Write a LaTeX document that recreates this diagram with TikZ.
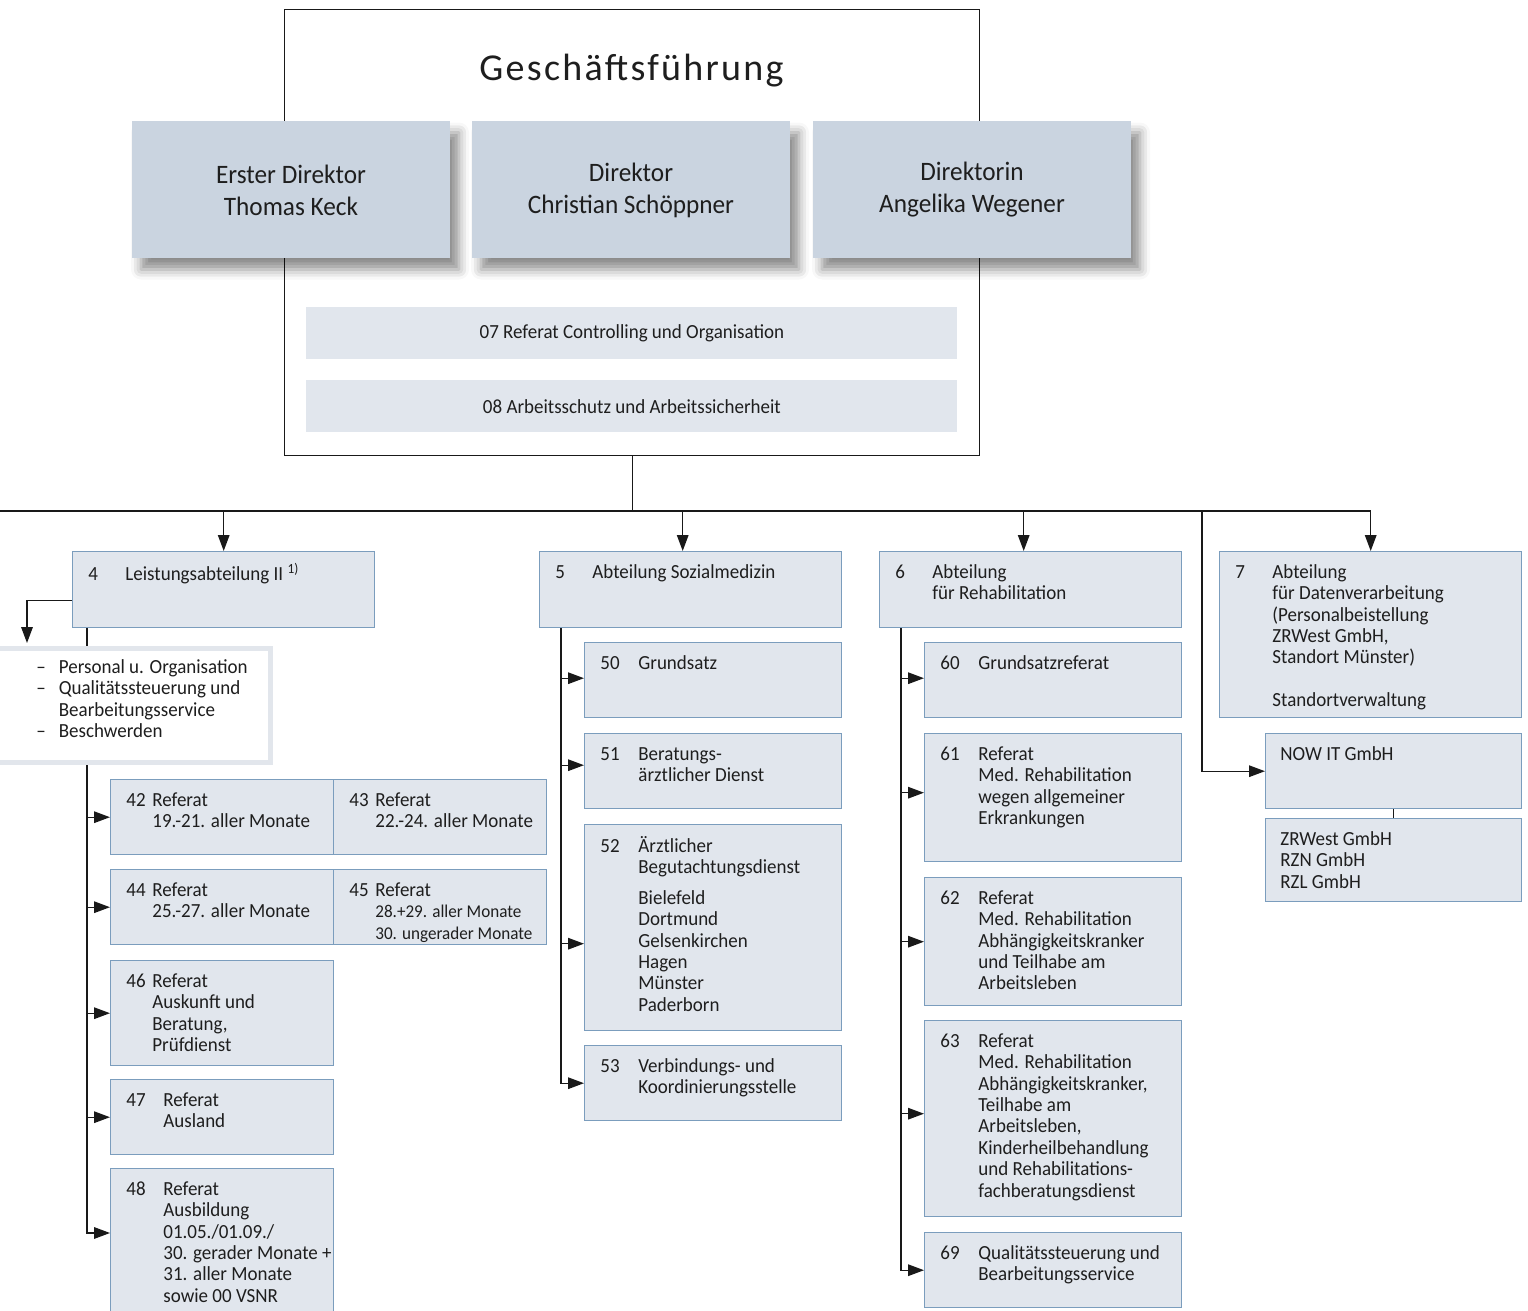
\documentclass[tikz,border=0pt]{standalone}
\usepackage{fontspec}
\setmainfont{Carlito}[FakeStretch=0.95]
\newfontfamily\titlefont{Carlito}[LetterSpace=6]
\usetikzlibrary{arrows.meta,positioning,shadows.blur}

\definecolor{dirfill}{HTML}{CAD4E0}
\definecolor{barfill}{HTML}{E1E6ED}
\definecolor{unitfill}{HTML}{E1E6ED}
\definecolor{unitline}{HTML}{7B9DBD}
\definecolor{listline}{HTML}{E2E6EC}
\definecolor{inktext}{HTML}{1E1E1E}
\newcommand{\bodyfont}{\fontsize{10}{10.7}\selectfont}
\newcommand{\numtext}[3]{\makebox[#1][l]{#2}\begin{tabular}[t]{@{}l@{}}#3\end{tabular}}

\begin{document}
\begin{tikzpicture}[x=0.5pt, y=-0.5pt, text=inktext,
  line/.style={draw=black!90, line width=0.65pt},
  conn/.style={line, -{Triangle[length=8pt,width=5.8pt]}},
  dirbox/.style={fill=dirfill, minimum width=159pt, minimum height=68.5pt, inner sep=0pt,
    align=center, font=\fontsize{13.3}{16}\selectfont,
    blur shadow={shadow xshift=4.5pt, shadow yshift=-5.5pt, shadow blur radius=5pt, shadow opacity=45}},
  bar/.style={fill=barfill, anchor=north west, minimum width=325.5pt, minimum height=26pt,
    inner sep=0pt, font=\bodyfont},
  unit/.style={draw=unitline, fill=unitfill, line width=0.7pt, anchor=north west, inner sep=0pt},
  utext/.style={anchor=north west, inner sep=0pt, font=\bodyfont},
  listbox/.style={draw=listline, fill=white, line width=2.5pt, anchor=north west, inner sep=0pt}]
\useasboundingbox (0,0) rectangle (1528,1311);

% Geschaeftsfuehrung
\node[line, anchor=north west, minimum width=347.5pt, minimum height=223pt, inner sep=0pt] (gf) at (284,9) {};
\node (title) at (631.5,71) {\titlefont\fontsize{19}{22}\selectfont Geschäftsführung};
\node[dirbox] (d1) at (291,190) {Erster Direktor\\Thomas Keck};
\node[dirbox] (d2) at (631,190) {Direktor\\Christian Schöppner};
\node[dirbox] (d3) at (972,190) {Direktorin\\Angelika Wegener};
\node[bar] (r07) at (306,307) {07 Referat Controlling und Organisation};
\node[bar] (r08) at (306,380) {08 Arbeitsschutz und Arbeitssicherheit};

% Abteilungen
\node[unit, minimum width=151pt, minimum height=38pt] (b4) at (72,551) {};
\node[unit, minimum width=151pt, minimum height=38pt] (b5) at (539,551) {};
\node[unit, minimum width=151pt, minimum height=38pt] (b6) at (879,551) {};
\node[unit, minimum width=151pt, minimum height=83pt] (b7) at (1219,551) {};
\node[unit, minimum width=128pt, minimum height=37.5pt] (now) at (1265,733) {};
\node[unit, minimum width=128pt, minimum height=41.5pt] (zrw) at (1265,818) {};

\node[utext] (t4) at ([shift={(16,12)}]b4.north west) {\numtext{18.5pt}{4}{Leistungsabteilung II \textsuperscript{\scriptsize 1)}}};
\node[utext] (t5) at ([shift={(16,12)}]b5.north west) {\numtext{18.5pt}{5}{Abteilung Sozialmedizin}};
\node[utext] (t6) at ([shift={(16,12)}]b6.north west) {\numtext{18.5pt}{6}{Abteilung\\für Rehabilitation}};
\node[utext] (t7) at ([shift={(16,12)}]b7.north west) {\numtext{18.5pt}{7}{Abteilung\\für Datenverarbeitung\\(Personalbeistellung\\ZRWest GmbH,\\Standort Münster)\\ \\Standortverwaltung}};
\node[utext] (tnow) at ([shift={(15,12)}]now.north west) {\numtext{0pt}{}{NOW IT GmbH}};
\node[utext] (tzrw) at ([shift={(15,12)}]zrw.north west) {\numtext{0pt}{}{ZRWest GmbH\\RZN GmbH\\RZL GmbH}};

% Leistungsabteilung II
\node[unit, minimum width=111.5pt, minimum height=37.5pt] (b42) at (110,779) {};
\node[unit, minimum width=106.5pt, minimum height=37.5pt] (b43) at (333,779) {};
\node[unit, minimum width=111.5pt, minimum height=37.5pt] (b44) at (110,869) {};
\node[unit, minimum width=106.5pt, minimum height=37.5pt] (b45) at (333,869) {};
\node[unit, minimum width=111.5pt, minimum height=52.5pt] (b46) at (110,960) {};
\node[unit, minimum width=111.5pt, minimum height=37.5pt] (b47) at (110,1079) {};
\node[unit, minimum width=111.5pt, minimum height=80pt] (b48) at (110,1168) {};

\node[utext] (t42) at ([shift={(16,12)}]b42.north west) {\numtext{13pt}{42}{Referat\\19.-21. aller Monate}};
\node[utext] (t43) at ([shift={(16,12)}]b43.north west) {\numtext{13pt}{43}{Referat\\22.-24. aller Monate}};
\node[utext] (t44) at ([shift={(16,12)}]b44.north west) {\numtext{13pt}{44}{Referat\\25.-27. aller Monate}};
\node[utext] (t45) at ([shift={(16,12)}]b45.north west) {\numtext{13pt}{45}{Referat\\{\fontsize{9}{10}\selectfont 28.+29. aller Monate}\\{\fontsize{9}{10}\selectfont 30. ungerader Monate}}};
\node[utext] (t46) at ([shift={(16,12)}]b46.north west) {\numtext{13pt}{46}{Referat\\Auskunft und\\Beratung,\\Prüfdienst}};
\node[utext] (t47) at ([shift={(16,12)}]b47.north west) {\numtext{18.5pt}{47}{Referat\\Ausland}};
\node[utext] (t48) at ([shift={(16,12)}]b48.north west) {\numtext{18.5pt}{48}{Referat\\Ausbildung\\01.05./01.09./\\30. gerader Monate +\\31. aller Monate\\sowie 00 VSNR}};

% Sozialmedizin
\node[unit, minimum width=128.5pt, minimum height=37.5pt] (b50) at (584,642) {};
\node[unit, minimum width=128.5pt, minimum height=37.5pt] (b51) at (584,733) {};
\node[unit, minimum width=128.5pt, minimum height=103pt] (b52) at (584,824) {};
\node[unit, minimum width=128.5pt, minimum height=37.5pt] (b53) at (584,1045) {};

\node[utext] (t50) at ([shift={(16,12)}]b50.north west) {\numtext{19pt}{50}{Grundsatz}};
\node[utext] (t51) at ([shift={(16,12)}]b51.north west) {\numtext{19pt}{51}{Beratungs-\\ärztlicher Dienst}};
\node[utext] (t52) at ([shift={(16,12)}]b52.north west) {\numtext{19pt}{52}{Ärztlicher\\Begutachtungsdienst\\[4.5pt]Bielefeld\\Dortmund\\Gelsenkirchen\\Hagen\\Münster\\Paderborn}};
\node[utext] (t53) at ([shift={(16,12)}]b53.north west) {\numtext{19pt}{53}{Verbindungs- und\\Koordinierungsstelle}};

% Rehabilitation
\node[unit, minimum width=128.5pt, minimum height=37.5pt] (b60) at (924,642) {};
\node[unit, minimum width=128.5pt, minimum height=64pt] (b61) at (924,733) {};
\node[unit, minimum width=128.5pt, minimum height=64pt] (b62) at (924,877) {};
\node[unit, minimum width=128.5pt, minimum height=98pt] (b63) at (924,1020) {};
\node[unit, minimum width=128.5pt, minimum height=37.5pt] (b69) at (924,1232) {};

\node[utext] (t60) at ([shift={(16,12)}]b60.north west) {\numtext{19pt}{60}{Grundsatzreferat}};
\node[utext] (t61) at ([shift={(16,12)}]b61.north west) {\numtext{19pt}{61}{Referat\\Med. Rehabilitation\\wegen allgemeiner\\Erkrankungen}};
\node[utext] (t62) at ([shift={(16,12)}]b62.north west) {\numtext{19pt}{62}{Referat\\Med. Rehabilitation\\Abhängigkeitskranker\\und Teilhabe am\\Arbeitsleben}};
\node[utext] (t63) at ([shift={(16,12)}]b63.north west) {\numtext{19pt}{63}{Referat\\Med. Rehabilitation\\Abhängigkeitskranker,\\Teilhabe am\\Arbeitsleben,\\Kinderheilbehandlung\\und Rehabilitations-\\fachberatungsdienst}};
\node[utext] (t69) at ([shift={(16,12)}]b69.north west) {\numtext{19pt}{69}{Qualitätssteuerung und\\Bearbeitungsservice}};

% connectors
\coordinate (busL) at (-4,511);
\coordinate (bus) at (gf.south |- busL);
\draw[line] (gf.south) -- (bus);
\draw[conn] (busL) -| (b7.north);
\draw[conn] (b4.north |- busL) -- (b4.north);
\coordinate (a5) at ([xshift=-4pt]b5.north);
\coordinate (a6) at ([xshift=-3.5pt]b6.north);
\draw[conn] (a5 |- busL) -- (a5);
\draw[conn] (a6 |- busL) -- (a6);
\coordinate (a7) at (1202,511);
\draw[conn] (a7) |- (now.west);
\draw[line] (now.south) -- (zrw.north);

\coordinate (c4) at ([xshift=7.5pt]b4.south west);
\coordinate (a48) at (110,1233);
\draw[conn] (c4) |- (a48);
\foreach \n in {42,44,46,47}
  \draw[conn] (c4 |- b\n.west) -- (b\n.west);

% Querschnitt
\node[listbox, minimum width=139pt, minimum height=57pt] (lst) at (-10,646) {};
\node[utext] (tlst) at (36,658) {\begin{tabular}{@{}l@{\hspace{6.5pt}}l@{}}–&Personal u. Organisation\\–&Qualitätssteuerung und\\&Bearbeitungsservice\\–&Beschwerden\end{tabular}};
\coordinate (l4) at (27,643);
\draw[conn] ([yshift=-5.5pt]b4.west) -| (l4);

\coordinate (c5) at ([xshift=11pt]b5.south west);
\draw[conn] (c5) |- (b53.west);
\foreach \n/\dy in {50/1,51/3,52/-8} {
  \coordinate (e) at ([yshift=\dy pt]b\n.west);
  \draw[conn] (c5 |- e) -- (e);
}
\coordinate (c6) at ([xshift=11pt]b6.south west);
\draw[conn] (c6) |- (b69.west);
\foreach \n/\dy in {60/1,61/2.5,62/0,63/2.5} {
  \coordinate (e) at ([yshift=\dy pt]b\n.west);
  \draw[conn] (c6 |- e) -- (e);
}
\end{tikzpicture}
\end{document}
